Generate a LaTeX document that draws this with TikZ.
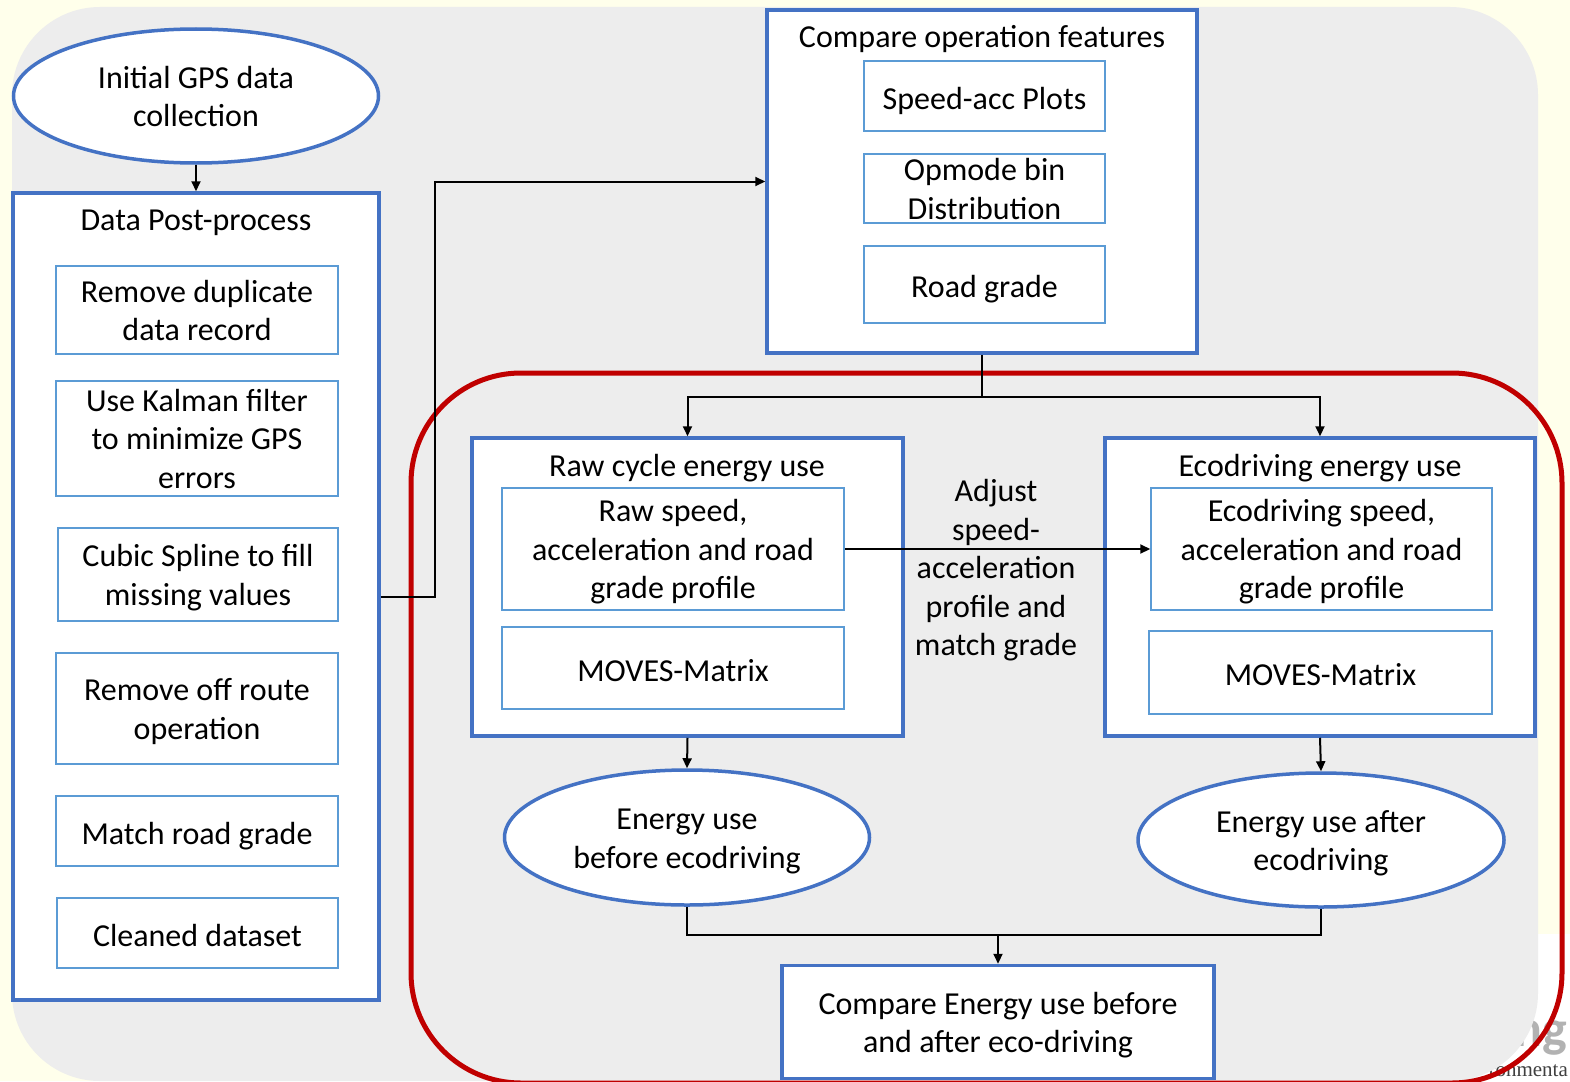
\documentclass[tikz,border=0pt]{standalone}
\usepackage{fontspec}
\setmainfont{Carlito}
\newfontfamily\wmserif{Liberation Serif}
\usetikzlibrary{shapes.geometric,arrows.meta}
\definecolor{bgyellow}{HTML}{FFFFEB}
\definecolor{panelgray}{HTML}{EDEDED}
\definecolor{outerblue}{HTML}{4472C4}
\definecolor{innerblue}{HTML}{5B9BD5}
\definecolor{darkred}{HTML}{C00000}
\begin{document}
\begin{tikzpicture}[x=1pt,y=-1pt,
  every node/.style={font=\fontsize{32}{38.5}\selectfont, align=center, inner xsep=0pt, inner ysep=-8pt},
  lone/.style={text height=33pt, text depth=7pt},
  ltwo/.style={text height=68pt, text depth=7pt},
  lthree/.style={text height=106.5pt, text depth=7pt},
  lfive/.style={text height=187pt, text depth=7pt},
  outerbox/.style={draw=outerblue, line width=3.5pt, fill=white, rectangle},
  innerbox/.style={draw=innerblue, line width=1.5pt, fill=white, rectangle},
  oval/.style={draw=outerblue, line width=3.5pt, fill=white, ellipse},
  conn/.style={line width=2pt, black},
  arr/.style={conn, -{Triangle[length=10pt,width=9pt]}},
  lbl/.style={text=black},
  wmark/.style={inner sep=0pt}
]
\useasboundingbox (0,0) rectangle (1570,1081);
% background
\fill[bgyellow] (0,0) rectangle (1570,1081);
\fill[white] (1470,934) rectangle (1570,1081);
\node[wmark, text=gray!60, font=\bfseries\fontsize{52}{52}\selectfont, anchor=base west] (wm1) at (1514,1046) {ng};
\node[wmark, text=black!75, font=\wmserif\fontsize{21}{21}\selectfont, anchor=base east] (wm2) at (1568,1076) {ronmenta};
\fill[panelgray, rounded corners=88pt] (12,7) rectangle (1538,1081);
\draw[darkred, line width=5pt, rounded corners=110pt] (411,373) rectangle (1562,1083);

% left column
\node[oval, ltwo, minimum width=365pt, minimum height=134pt] (ell1) at (196,96) {Initial GPS data\\collection};
\node[outerbox, minimum width=366pt, minimum height=807pt] (dpp) at (196,596.5) {};
\node[lbl, lone] (dppt) at (196,217.75) {Data Post-process};
\node[innerbox, ltwo, minimum width=282pt, minimum height=88pt] (dup) at (197,310) {Remove duplicate\\data record};
\node[innerbox, lthree, minimum width=282pt, minimum height=115pt] (kal) at (197,438.5) {Use Kalman filter\\to minimize GPS\\errors};
\node[innerbox, ltwo, minimum width=280pt, minimum height=93pt] (spl) at (198,574.5) {Cubic Spline to fill\\missing values};
\node[innerbox, ltwo, minimum width=282pt, minimum height=111pt] (off) at (197,708.5) {Remove off route\\operation};
\node[innerbox, lone, minimum width=282pt, minimum height=70pt] (mrg) at (197,831) {Match road grade};
\node[innerbox, lone, minimum width=281pt, minimum height=70pt] (cln) at (197.5,933) {Cleaned dataset};

% compare operation features
\node[outerbox, minimum width=430pt, minimum height=343pt] (cmp) at (982,181.5) {};
\node[lbl, lone] (cmpt) at (982,35) {Compare operation features};
\node[innerbox, lone, minimum width=241pt, minimum height=70pt] (sa) at (984.5,96) {Speed-acc Plots};
\node[innerbox, ltwo, minimum width=241pt, minimum height=69pt] (opm) at (984.5,188.5) {Opmode bin\\Distribution};
\node[innerbox, lone, minimum width=241pt, minimum height=77pt] (rg) at (984.5,284.5) {Road grade};

% raw cycle
\node[outerbox, minimum width=431pt, minimum height=298pt] (raw) at (687.5,587) {};
\node[lbl, lone] (rawt) at (687,463.75) {Raw cycle energy use};
\node[innerbox, lthree, minimum width=342pt, minimum height=122pt] (rawp) at (673,549) {Raw speed,\\acceleration and road\\grade profile};
\node[innerbox, lone, minimum width=342pt, minimum height=82pt] (rawm) at (673,668) {MOVES-Matrix};

% ecodriving
\node[outerbox, minimum width=430pt, minimum height=298pt] (eco) at (1320,587) {};
\node[lbl, lone] (ecot) at (1320,463.75) {Ecodriving energy use};
\node[innerbox, lthree, minimum width=341pt, minimum height=122pt] (ecop) at (1321.5,549) {Ecodriving speed,\\acceleration and road\\grade profile};
\node[innerbox, lone, minimum width=343pt, minimum height=83pt] (ecom) at (1320.5,672.5) {MOVES-Matrix};

% ellipses
\node[oval, ltwo, minimum width=365pt, minimum height=135pt] (ell2) at (687,837.5) {Energy use\\before ecodriving};
\node[oval, ltwo, minimum width=366pt, minimum height=134pt] (ell3) at (1321,840) {Energy use after\\ecodriving};

% final
\node[outerbox, ltwo, minimum width=432pt, minimum height=113pt] (cmpe) at (998,1022) {Compare Energy use before\\and after eco-driving};

% connectors
\draw[arr] (ell1.south) -- (dpp.north);
\draw[arr] (dpp.east) -- ++(54,0) |- (cmp.west);
\draw[conn] (cmp.south) -- ++(0,42) coordinate (split);
\draw[arr] (split) -| (raw.north);
\draw[arr] (split) -| (eco.north);
\draw[arr] (rawp.east) -- (ecop.west);
\node[lbl, lfive] (adj) at (996,565.75) {Adjust\\speed-\\acceleration\\profile and\\match grade};
\draw[arr] (raw.south) -- (ell2.north);
\draw[arr] (eco.south) -- (ell3.north);
\coordinate (join) at (998,935);
\draw[conn] (ell2.south) |- (join) -| (ell3.south);
\draw[arr] (join) -- (cmpe.north);
\end{tikzpicture}
\end{document}
